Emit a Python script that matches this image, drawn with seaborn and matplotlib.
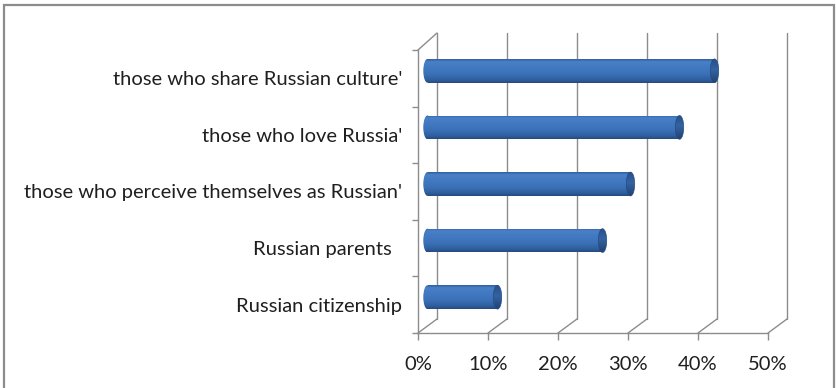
import numpy as np
import pandas as pd
import seaborn as sns
import matplotlib
matplotlib.use("Agg")
import matplotlib.pyplot as plt
from matplotlib.transforms import ScaledTranslation
from matplotlib.patches import Ellipse, Rectangle
from matplotlib.lines import Line2D
from matplotlib.colors import LinearSegmentedColormap

# Survey answers: who can be considered Russian
categories = [
    "those who share Russian culture'",
    "those who love Russia'",
    "those who perceive themselves as Russian'",
    "Russian parents  ",
    "Russian citizenship",
]
values = [41, 36, 29, 25, 10]
xticks = [0, 10, 20, 30, 40, 50]
xtick_labels = ["0%", "10%", "20%", "30%", "40%", "50%"]

sns.set_theme(style="white")
plt.rcParams["font.family"] = ["Lato", "DejaVu Sans"]

GRID = "#8c8c8c"
TEXT = "#1f1f1f"

W, H = 836, 388
fig = plt.figure(figsize=(W / 100, H / 100), dpi=100)
fig.patch.set_facecolor("white")

# front plane of the 3-D box
ax = fig.add_axes([418 / W, (H - 333) / H, 350 / W, 283 / H])
ax.set_facecolor("none")

df = pd.DataFrame({"label": categories, "value": values})
sns.barplot(data=df, x="value", y="label", orient="h", color="#3c74ba",
            width=0.42, linewidth=0, ax=ax, zorder=3)

# depth offsets (in inches) for the middle of the box and its back wall
mid = ScaledTranslation(9.5 / 100, 7.5 / 100, fig.dpi_scale_trans)
back = ScaledTranslation(19 / 100, 14 / 100, fig.dpi_scale_trans)

body_cmap = LinearSegmentedColormap.from_list(
    "cyl", [(0, "#2f5e9c"), (0.1, "#4880c8"), (0.35, "#4279c1"),
            (0.65, "#3a70b5"), (0.88, "#2f5e9e"), (1, "#244b80")])
cap_cmap = LinearSegmentedColormap.from_list(
    "cap", [(0, "#284f88"), (0.45, "#3463a2"), (1, "#1f4373")])
grad = np.linspace(0, 1, 64).reshape(-1, 1)
cap_w = 1.2

for patch in list(ax.patches):
    x0, y0 = patch.get_x(), patch.get_y()
    w, h = patch.get_width(), patch.get_height()
    yc = y0 + h / 2
    patch.set_transform(ax.transData + mid)
    patch.set_facecolor("none")

    # cylinder body
    im = ax.imshow(grad, cmap=body_cmap, aspect="auto", interpolation="bilinear",
                   extent=(x0, x0 + w, y0 + h, y0), zorder=3)
    im.set_transform(ax.transData + mid)
    im.set_clip_path(patch)

    # rounded far end at zero
    left = Ellipse((x0, yc), cap_w, h, transform=ax.transData + mid,
                   facecolor="none", edgecolor="none")
    ax.add_patch(left)
    im2 = ax.imshow(grad, cmap=body_cmap, aspect="auto", interpolation="bilinear",
                    extent=(x0 - cap_w / 2, x0 + cap_w / 2, y0 + h, y0), zorder=3)
    im2.set_transform(ax.transData + mid)
    im2.set_clip_path(left)

    # end cap at the value
    cap = Ellipse((x0 + w, yc), cap_w, h, transform=ax.transData + mid,
                  facecolor="none", edgecolor="#264c82", linewidth=0.5, zorder=5)
    ax.add_patch(cap)
    im3 = ax.imshow(grad, cmap=cap_cmap, aspect="auto", interpolation="bilinear",
                    extent=(x0 + w - cap_w / 2, x0 + w + cap_w / 2, y0 + h, y0), zorder=4)
    im3.set_transform(ax.transData + mid)
    im3.set_clip_path(cap)

ymin, ymax = -0.5, len(categories) - 0.5

# back wall gridlines and floor edges
for xt in xticks:
    ax.add_line(Line2D([xt, xt], [ymax, ymin - 0.05], transform=ax.transData + back,
                       color=GRID, linewidth=1.0, zorder=1, clip_on=False))
    ax.add_artist(Line2D([0, 0.19], [0, 0.14],
                         transform=fig.dpi_scale_trans + ScaledTranslation(xt, ymax, ax.transData),
                         color=GRID, linewidth=1.0, zorder=1, clip_on=False))
# top edge of the side wall
ax.add_artist(Line2D([0, 0.19], [0, 0.17],
                     transform=fig.dpi_scale_trans + ScaledTranslation(0, ymin, ax.transData),
                     color=GRID, linewidth=1.0, zorder=1, clip_on=False))

ax.set_xlim(0, 50)
ax.set_ylim(ymax, ymin)

for side in ["top", "right"]:
    ax.spines[side].set_visible(False)
for side in ["left", "bottom"]:
    ax.spines[side].set_color(GRID)
    ax.spines[side].set_linewidth(1.0)

ax.set_xticks(xticks)
ax.set_xticklabels(xtick_labels)
ax.set_yticks(range(len(categories)))
ax.set_yticklabels(categories)
ax.set_yticks(np.arange(ymin, ymax + 0.01, 1), minor=True)
ax.set_xlabel("")
ax.set_ylabel("")
ax.tick_params(axis="x", which="major", bottom=True, length=5, width=1, color=GRID,
               direction="out", pad=11.5, labelsize=14.5, labelcolor=TEXT)
ax.tick_params(axis="y", which="major", left=True, length=0, pad=11.5,
               labelsize=14.5, labelcolor=TEXT)
ax.tick_params(axis="y", which="minor", left=True, length=4.5, width=1, color=GRID,
               direction="out")
ax.grid(False)

# chart frame
fig.add_artist(Rectangle((4 / W, -0.1), (834 - 4) / W, (H - 5) / H + 0.1,
                         transform=fig.transFigure, facecolor="none",
                         edgecolor="#8c8c8c", linewidth=1.6))

fig.savefig("out.png", dpi=100)
